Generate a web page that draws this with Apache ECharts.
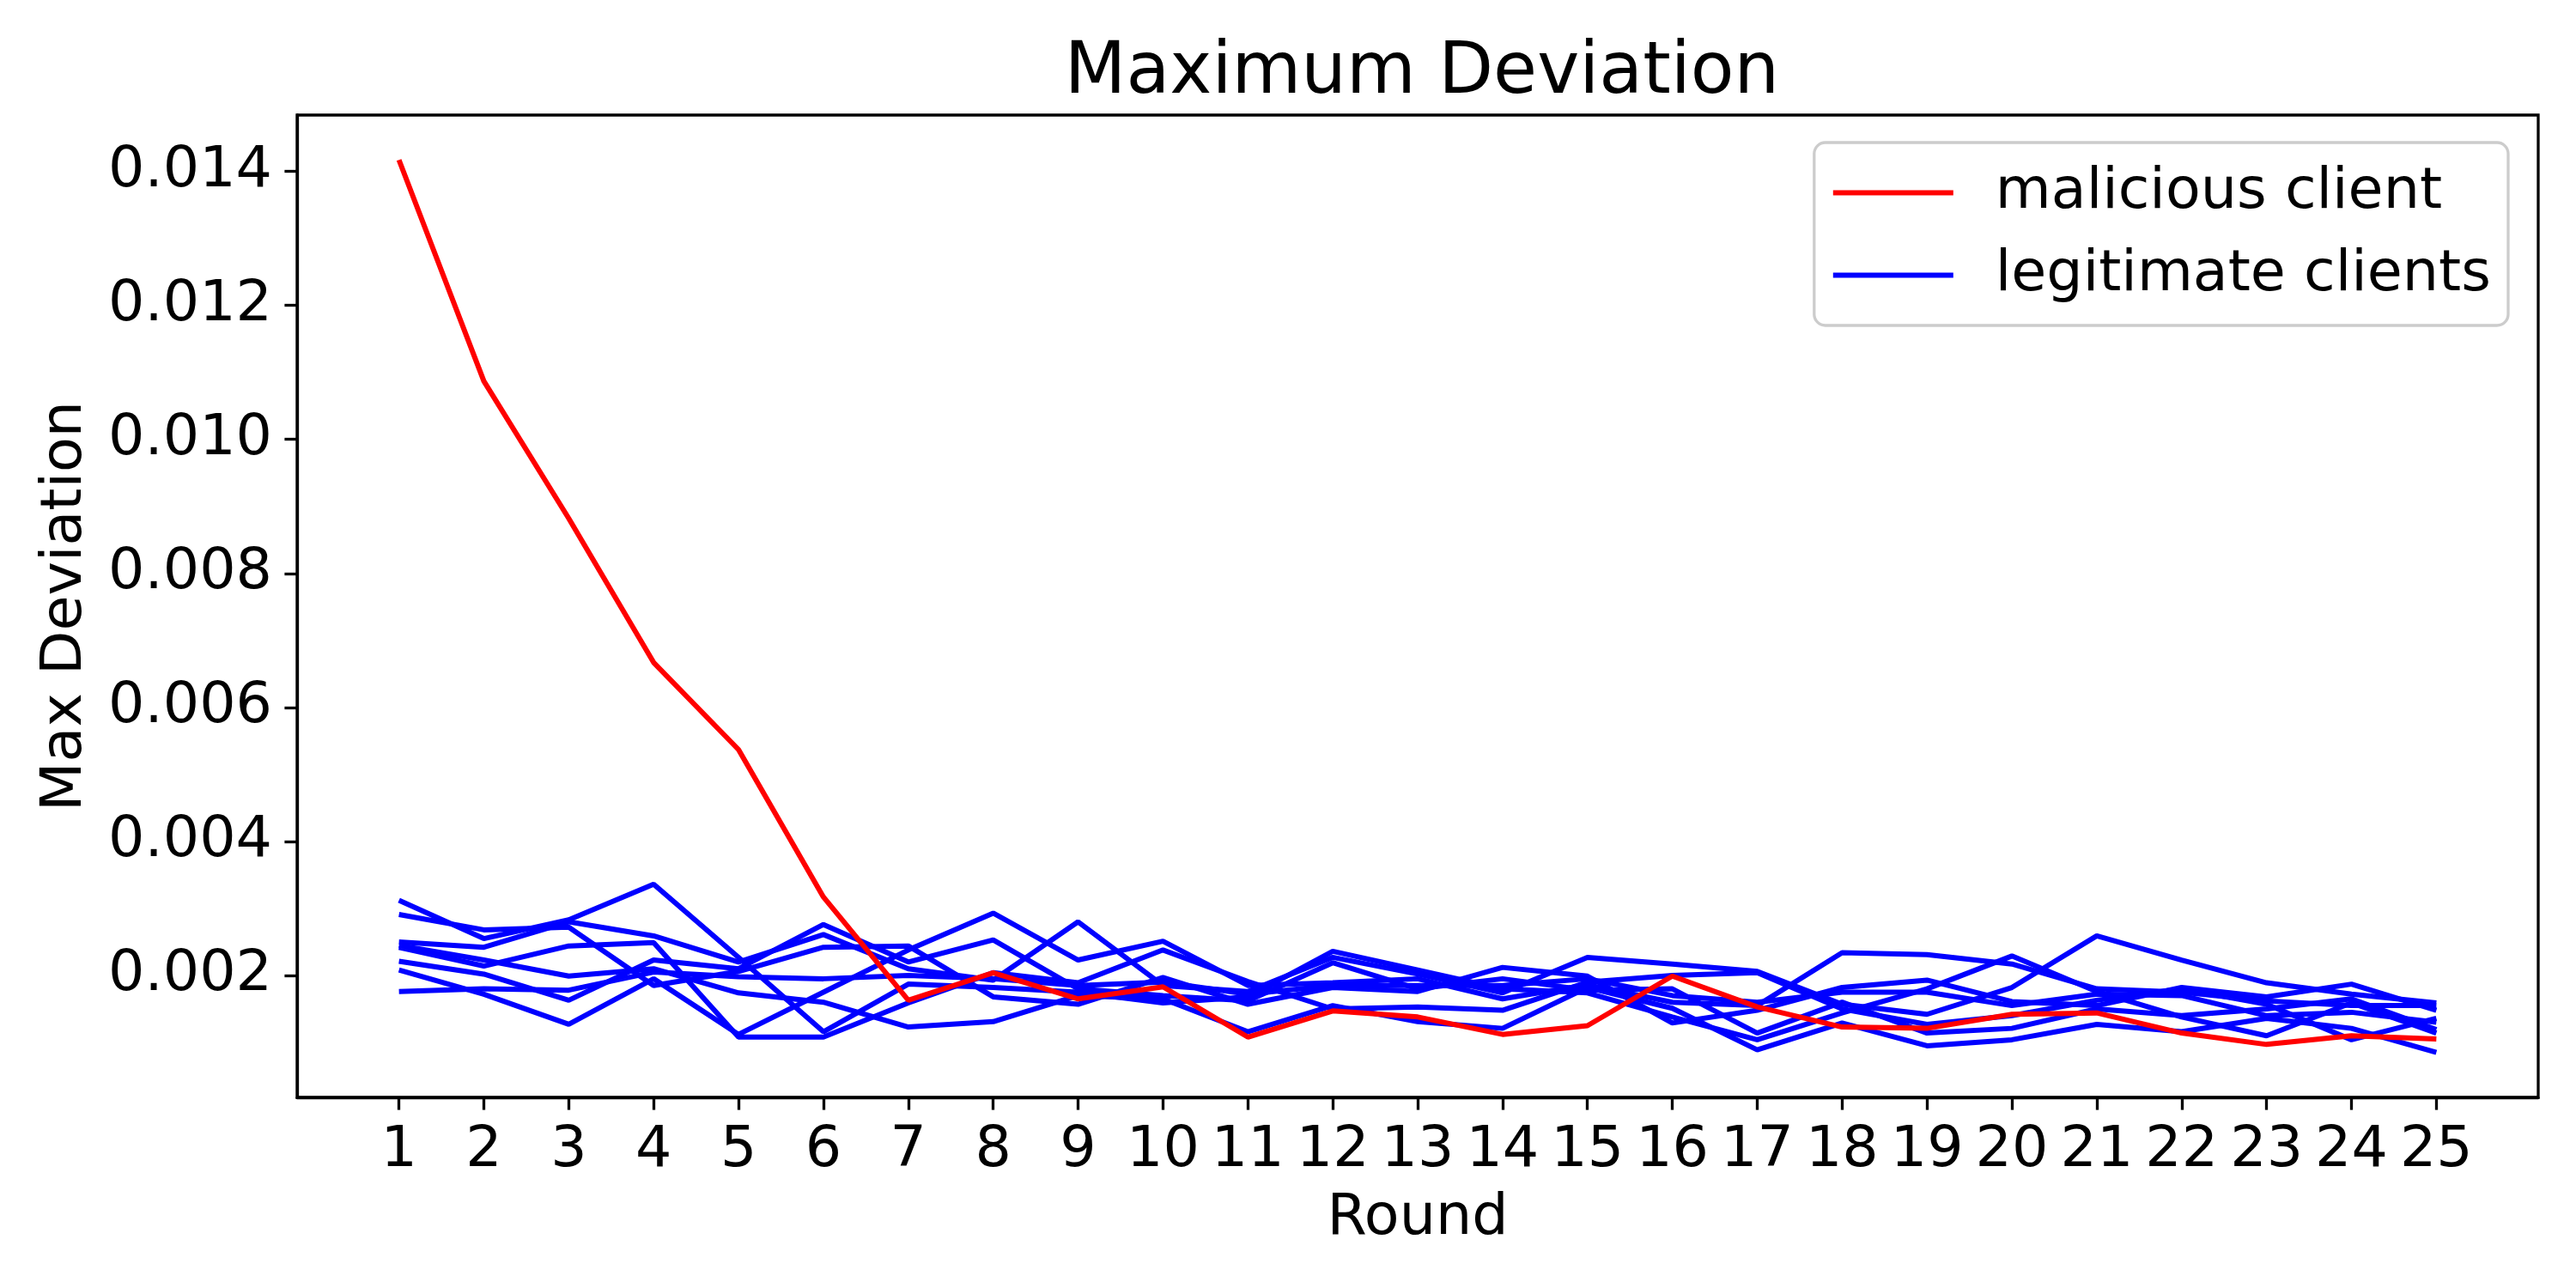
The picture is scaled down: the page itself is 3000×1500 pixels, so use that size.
<!DOCTYPE html>
<html>
<head>
<meta charset="utf-8">
<script src="https://cdn.jsdelivr.net/npm/echarts@6/dist/echarts.min.js"></script>
<style>html,body{margin:0;padding:0;background:#fff}#chart{width:3000px;height:1500px}</style>
</head>
<body>
<div id="chart"></div>
<script>
const rounds = [1,2,3,4,5,6,7,8,9,10,11,12,13,14,15,16,17,18,19,20,21,22,23,24,25];
const malicious = [0.01417,0.01087,0.00882,0.00667,0.00537,0.00317,0.00163,0.00204,0.00165,0.00183,0.00108,0.00147,0.00138,0.00112,0.00125,0.00199,0.00153,0.00123,0.00121,0.00142,0.00144,0.00114,0.00097,0.00110,0.00105];
const legit1 = [0.00312,0.00255,0.00283,0.00336,0.00227,0.00116,0.00187,0.00182,0.00175,0.00159,0.00168,0.00236,0.00208,0.00180,0.00174,0.00138,0.00104,0.00144,0.00180,0.00229,0.00176,0.00138,0.00110,0.00159,0.00114];
const legit2 = [0.00291,0.00268,0.00272,0.00185,0.00206,0.00242,0.00244,0.00168,0.00157,0.00197,0.00157,0.00182,0.00176,0.00212,0.00199,0.00129,0.00148,0.00182,0.00193,0.00161,0.00155,0.00182,0.00168,0.00187,0.00148];
const legit3 = [0.00250,0.00242,0.00280,0.00259,0.00220,0.00261,0.00210,0.00193,0.00280,0.00185,0.00176,0.00227,0.00202,0.00174,0.00227,0.00217,0.00206,0.00157,0.00142,0.00182,0.00259,0.00223,0.00189,0.00172,0.00159];
const legit4 = [0.00245,0.00223,0.00199,0.00210,0.00174,0.00160,0.00123,0.00131,0.00170,0.00165,0.00116,0.00155,0.00131,0.00121,0.00182,0.00151,0.00089,0.00129,0.00095,0.00104,0.00127,0.00116,0.00136,0.00121,0.00085];
const legit5 = [0.00242,0.00214,0.00244,0.00249,0.00108,0.00108,0.00159,0.00204,0.00189,0.00238,0.00191,0.00150,0.00153,0.00148,0.00190,0.00200,0.00204,0.00150,0.00127,0.00140,0.00163,0.00180,0.00157,0.00104,0.00136];
const legit6 = [0.00221,0.00202,0.00163,0.00223,0.00210,0.00276,0.00220,0.00253,0.00180,0.00170,0.00162,0.00219,0.00180,0.00195,0.00178,0.00180,0.00114,0.00160,0.00114,0.00121,0.00150,0.00140,0.00150,0.00165,0.00119];
const legit7 = [0.00208,0.00172,0.00127,0.00195,0.00112,0.00175,0.00238,0.00293,0.00223,0.00251,0.00185,0.00189,0.00195,0.00165,0.00186,0.00160,0.00155,0.00234,0.00231,0.00217,0.00180,0.00175,0.00162,0.00155,0.00155];
const legit8 = [0.00176,0.00180,0.00178,0.00205,0.00198,0.00195,0.00200,0.00195,0.00185,0.00190,0.00172,0.00185,0.00185,0.00185,0.00195,0.00170,0.00160,0.00175,0.00175,0.00155,0.00172,0.00170,0.00140,0.00145,0.00130];
const yTicks = [0.002,0.004,0.006,0.008,0.010,0.012,0.014];
const xTicks = rounds;

const legitAll = [legit1,legit2,legit3,legit4,legit5,legit6,legit7,legit8];
const FONT = 'DejaVu Sans';
const pair = arr => rounds.map((r,i)=>[r,arr[i]]);

const series = legitAll.map(arr => ({
  name: 'legitimate clients', type: 'line', data: pair(arr),
  symbol: 'none', lineStyle: {color: '#0000ff', width: 6}, itemStyle: {color: '#0000ff'},
  animation: false, z: 2
}));
series.push({
  name: 'malicious client', type: 'line', data: pair(malicious),
  symbol: 'none', lineStyle: {color: '#ff0000', width: 6}, itemStyle: {color: '#ff0000'},
  animation: false, z: 3
});

const chart = echarts.init(document.getElementById('chart'), null, {renderer: 'canvas'});
chart.setOption({
  backgroundColor: '#ffffff',
  animation: false,
  textStyle: {fontFamily: FONT},
  title: {
    text: 'Maximum Deviation', left: 1651, top: 40, textAlign: 'center',
    textStyle: {fontFamily: FONT, fontSize: 83, fontWeight: 'normal', color: '#000'}
  },
  grid: {left: 346, right: 44, top: 134, bottom: 222, show: true, borderColor: '#000', borderWidth: 3.3, containLabel: false},
  legend: {
    data: ['malicious client', 'legitimate clients'],
    orient: 'vertical', right: 79, top: 166,
    icon: 'rect', itemWidth: 140, itemHeight: 6, itemGap: 29,
    padding: [25, 20, 25, 22],
    backgroundColor: 'rgba(255,255,255,0.8)', borderColor: '#cccccc', borderWidth: 3.3, borderRadius: 13,
    textStyle: {fontFamily: FONT, fontSize: 66.7, color: '#000', padding: [0,0,0,44]}
  },
  xAxis: {
    type: 'value', min: -0.2, max: 26.2,
    name: 'Round', nameLocation: 'middle', nameGap: 108,
    nameTextStyle: {fontFamily: FONT, fontSize: 66.7, color: '#000'},
    axisLine: {show: true, onZero: false, lineStyle: {color: '#000', width: 3.3}},
    axisTick: {show: true, length: 14.6, lineStyle: {color: '#000', width: 3.3}, customValues: xTicks},
    axisLabel: {fontFamily: FONT, fontSize: 66.7, color: '#000', margin: 29, customValues: xTicks, formatter: v => String(v)},
    splitLine: {show: false}
  },
  yAxis: {
    type: 'value', min: 0.00018, max: 0.01484,
    name: 'Max Deviation', nameLocation: 'middle', nameGap: 236,
    nameTextStyle: {fontFamily: FONT, fontSize: 66.7, color: '#000'},
    axisLine: {show: true, onZero: false, lineStyle: {color: '#000', width: 3.3}},
    axisTick: {show: true, length: 14.6, lineStyle: {color: '#000', width: 3.3}, customValues: yTicks},
    axisLabel: {fontFamily: FONT, fontSize: 66.7, color: '#000', margin: 29, customValues: yTicks, formatter: v => v.toFixed(3)},
    splitLine: {show: false}
  },
  series: series
});
</script>
</body>
</html>
